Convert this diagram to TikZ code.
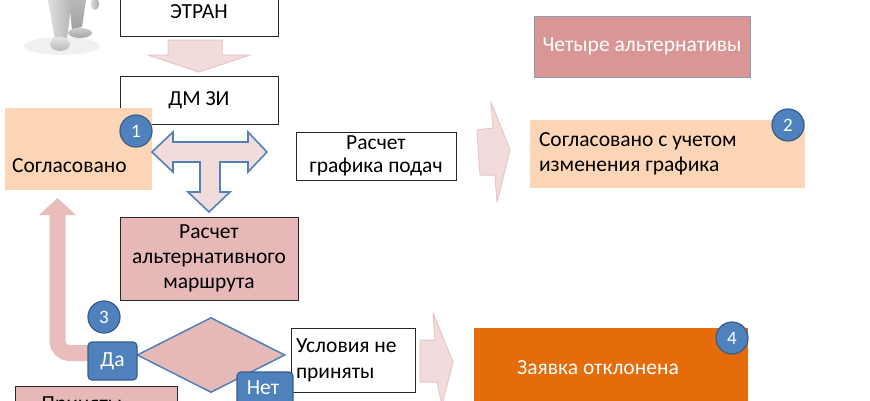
\documentclass[tikz,border=0pt]{standalone}
\usepackage{fontspec}
\setmainfont{Carlito}
\usetikzlibrary{shapes.geometric}
\definecolor{peach}{HTML}{FBD5B5}
\definecolor{pinkbox}{HTML}{E6B9B8}
\definecolor{altbox}{HTML}{D99694}
\definecolor{orangebox}{HTML}{E46C0A}
\definecolor{blueA}{HTML}{4F81BD}
\definecolor{blueB}{HTML}{385D8A}
\definecolor{lpink}{HTML}{F2DCDB}
\definecolor{lpinkedge}{HTML}{E8C6C5}
\definecolor{upink}{HTML}{E8BDBC}
\definecolor{altedge}{HTML}{8C9CB4}
\begin{document}
\begin{tikzpicture}[x=1pt,y=-1pt,
  txt/.style={font=\fontsize{21.5}{25}\selectfont},
  wbox/.style={draw=black!85, line width=0.8pt, fill=white, inner sep=0pt, txt},
  pbox/.style={draw=black!80!pinkbox, line width=0.8pt, fill=pinkbox, inner sep=0pt, txt},
  flatbox/.style={inner sep=0pt, txt},
  badge/.style={circle, fill=blueA, draw=blueB, line width=1.2pt, minimum size=32pt, inner sep=0pt, text=white, font=\fontsize{19}{19}\selectfont},
  yesno/.style={rounded corners=4pt, fill=blueA, draw=blueB, line width=1.2pt, inner sep=0pt, text=white, font=\fontsize{21.5}{21.5}\selectfont},
  blockarrow/.style={fill=lpink, draw=lpinkedge, line width=1pt, line join=round},
  tarrow/.style={fill=lpink, draw=blueA, line width=1.6pt, line join=miter},
  uarrow/.style={draw=upink, line width=16pt, rounded corners=12pt}]
\useasboundingbox (0,0) rectangle (870,400);
\begin{scope}
\clip (0,0) rectangle (870,400);
\fill[white] (0,0) rectangle (870,400);

% person (legs)
\fill[gray!12] (62,46) ellipse [x radius=38, y radius=9];
\shade[top color=gray!55, bottom color=gray!75] (69,0) -- (86,0) -- (82,27) -- (72,29) -- cycle;
\shade[top color=gray!40, bottom color=gray!70] (80,33) ellipse [x radius=12, y radius=5];
\shade[left color=gray!25, right color=gray!60] (48,0) -- (72,0) -- (67,38) -- (55,40) -- cycle;
\shade[top color=gray!20, bottom color=gray!55] (60,44) ellipse [x radius=10, y radius=7];
\shade[left color=gray!30, right color=gray!65] (95,4) ellipse [x radius=4, y radius=6];

% top boxes
\node[wbox, minimum width=158pt, minimum height=48pt] (etran) at (199,12) {ЭТРАН};
\node[wbox, minimum width=158pt, minimum height=48pt] (dmzi) at (199,100) {ДМ ЗИ};
\draw[blockarrow] (168,40) -- (222,40) -- (222,55) -- (250,55) -- (199,72) -- (148,55) -- (168,55) -- cycle;

\node[flatbox, fill=peach, minimum width=147pt, minimum height=82pt] (sogl) at (78.5,149) {};
\node[txt, anchor=west, inner sep=0pt] (sogltxt) at (12,166) {Согласовано};
\node[badge] (c1) at (136,131) {1};

% T arrow
\draw[tarrow] (152,152) -- (173,132) -- (173,142) -- (248,142) -- (248,132) -- (267,152) -- (248,172) -- (248,162) -- (220,162) -- (220,192) -- (230,192) -- (209,212) -- (188,192) -- (200,192) -- (200,162) -- (173,162) -- (173,172) -- cycle;

\node[wbox, minimum width=160pt, minimum height=48pt, align=center, font=\fontsize{21.5}{23}\selectfont] (grafik) at (376,156) {Расчет\\графика подач};
\draw[blockarrow] (477,130) -- (493,128) -- (491,102) -- (510,150) -- (497,202) -- (495,175) -- (480,175) -- cycle;

\node[flatbox, fill=altbox, draw=altedge, line width=0.8pt, minimum width=216pt, minimum height=61pt, text=white] (four) at (642,46.5) {Четыре альтернативы};
\node[flatbox, fill=peach, minimum width=275pt, minimum height=68pt, text width=257pt, align=flush left] (sogl2) at (667.5,154) {Согласовано с учетом\\изменения графика};
\node[badge] (c2) at (788,125) {2};

% alternative route
\node[pbox, minimum width=178pt, minimum height=83pt, align=center, font=\fontsize{21.5}{25}\selectfont] (alt) at (209,258.5) {Расчет\\альтернативного\\маршрута};

% U arrow back to Согласовано
\draw[uarrow] (92,353) -- (57.5,353) -- (57.5,213);
\fill[upink] (39,215) -- (57.5,198) -- (76,215) -- cycle;

% decision
\node[diamond, fill=pinkbox, draw=blueA, line width=1.5pt, minimum width=148pt, minimum height=75pt, inner sep=0pt, aspect=2] (dec) at (211,355) {};
\node[yesno, minimum width=49pt, minimum height=38pt] (da) at (112.5,361) {Да};
\node[badge] (c3) at (104,317) {3};
\node[wbox, minimum width=124pt, minimum height=64pt, text width=114pt, align=flush left, font=\fontsize{21.5}{26}\selectfont] (usl) at (353,360) {Условия не\\приняты};
\node[yesno, minimum width=56pt, minimum height=38pt] (net) at (265,391) {};
\node[text=white, font=\fontsize{21.5}{21.5}\selectfont, inner sep=0pt] (nettxt) at (263,388) {Нет};
\draw[blockarrow] (420,340) -- (435,340) -- (433,313) -- (453,362) -- (442,405) -- (437,382) -- (420,382) -- cycle;

% rejected
\node[flatbox, fill=orangebox, minimum width=274pt, minimum height=92pt] (otkl) at (611,374) {};
\node[txt, text=white, inner sep=0pt] (otkltxt) at (598,368) {Заявка отклонена};
\node[badge] (c4) at (732,338) {4};

% accepted
\node[pbox, minimum width=162pt, minimum height=44pt] (prin) at (96,408) {};
\node[txt, inner sep=0pt] (printxt) at (82,405) {Приняты};
\end{scope}
\end{tikzpicture}
\end{document}
